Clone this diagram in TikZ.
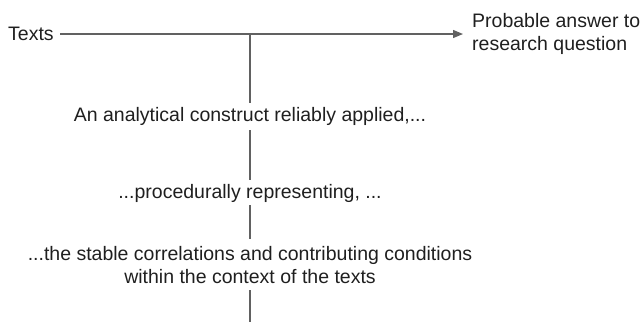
\documentclass[tikz,border=0pt]{standalone}
\usepackage{fontspec}
\setmainfont{Liberation Sans}
\usetikzlibrary{arrows.meta}
\definecolor{linegray}{gray}{0.38}
\definecolor{txt}{gray}{0.12}
\tikzset{
  lbl/.style={font=\fontsize{19.5}{23}\selectfont, text=txt, inner sep=0pt, align=center},
  conn/.style={draw=linegray, line width=1.3pt},
}
\begin{document}
\begin{tikzpicture}[x=1pt,y=1pt]
\useasboundingbox (0,0) rectangle (642,-322);
\node[lbl, anchor=west] (texts) at (8,-34) {Texts};
\node[lbl, anchor=west, align=left] (ans) at (472,-34) {Probable answer to\\research question};
\coordinate (hs) at (60,-34);
\coordinate (he) at (463,-34);
\coordinate (j) at (250,-34);
\node[lbl] (a) at (250,-116) {An analytical construct reliably applied,...};
\node[lbl] (p) at (250,-193) {...procedurally representing, ...};
\node[lbl] (s) at (250,-265) {...the stable correlations and contributing conditions\\within the context of the texts};
\coordinate (a1) at (250,-103);
\coordinate (a2) at (250,-130);
\coordinate (p1) at (250,-180);
\coordinate (p2) at (250,-205);
\coordinate (s1) at (250,-239);
\coordinate (s2) at (250,-290);
\coordinate (bot) at (250,-322);
\draw[conn, -{Triangle[length=10pt,width=8pt]}] (hs) -- (he);
\draw[conn] (j) -- (a1);
\draw[conn] (a2) -- (p1);
\draw[conn] (p2) -- (s1);
\draw[conn] (s2) -- (bot);
\end{tikzpicture}
\end{document}
